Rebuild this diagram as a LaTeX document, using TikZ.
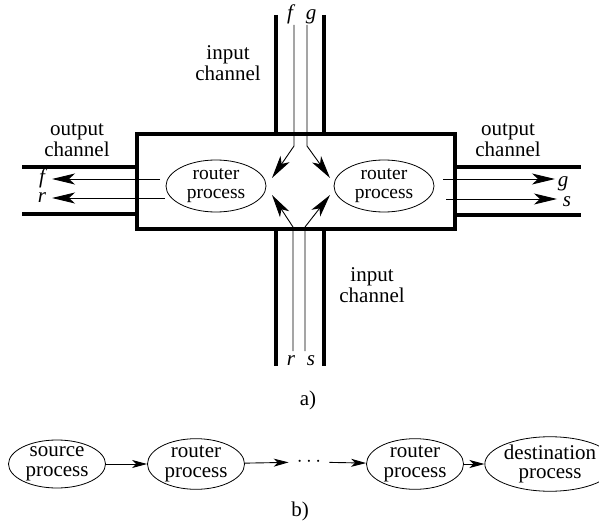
\documentclass[tikz,border=0pt]{standalone}
\usepackage{fontspec}
\setmainfont{Liberation Serif}
\usetikzlibrary{arrows.meta,shapes.geometric}
\begin{document}
\begin{tikzpicture}[x=1pt,y=-1pt,
  wall/.style={line width=4.5pt},
  wire/.style={line width=0.9pt,black},
  bigtip/.style={-{Stealth[length=23pt,width=11pt,inset=6pt]}},
  smalltip/.style={-{Stealth[length=15pt,width=8pt,inset=4pt]}},
  proc/.style={ellipse,draw,line width=0.8pt,inner sep=0pt,align=center},
  inproc/.style={proc,minimum width=100pt,minimum height=52pt,
    font=\fontsize{19.5}{19}\selectfont},
  chainproc/.style={proc,minimum width=97pt,minimum height=48pt,
    font=\fontsize{21}{19.5}\selectfont},
  lbl/.style={align=center,font=\fontsize{21}{21.5}\selectfont},
  var/.style={anchor=base,inner sep=0pt,text height=10pt,text depth=3pt,
    font=\fontsize{21}{21}\selectfont\itshape}]
\useasboundingbox (0,0) rectangle (599,529);

% switch box and its four channels
\draw[wall] (137,134) rectangle (455,229);
\draw[wall] (276,15) -- (276,134) (324,15) -- (324,134);
\draw[wall] (276,229) -- (276,366) (324,229) -- (324,366);
\draw[wall] (22,167) -- (137,167) (22,214) -- (137,214);
\draw[wall] (455,167) -- (581,167) (455,215) -- (581,215);

% router processes inside the switch
\node[inproc] (rl) at (216,186) {router\\process};
\node[inproc] (rr) at (384,186) {router\\process};

% channel labels
\node[lbl] (inA) at (228,63) {input\\channel};
\node[lbl] (inB) at (372,285) {input\\channel};
\node[lbl] (outL) at (77,140) {output\\channel};
\node[lbl] (outR) at (508,140) {output\\channel};

% signal names
\node[var] (f1) at (290,20) {f};
\node[var] (g1) at (311,20) {g};
\node[var] (r1) at (291,365) {r};
\node[var] (s1) at (311,365) {s};
\node[var] (f2) at (42,184) {f};
\node[var] (r2) at (42,203) {r};
\node[var] (g2) at (563,187) {g};
\node[var] (s2) at (567,207) {s};

% wire turning points and ends
\coordinate (fa) at (294,25);  \coordinate (fb) at (294,146); \coordinate (fc) at (272,178);
\coordinate (ga) at (307,25);  \coordinate (gb) at (307,146); \coordinate (gc) at (330,178);
\coordinate (ra) at (293,351); \coordinate (rb) at (293,227); \coordinate (rc) at (272,195);
\coordinate (sa) at (305,351); \coordinate (sb) at (305,227); \coordinate (sc) at (330,195);
\coordinate (fo) at (160,179); \coordinate (fe) at (52,179);
\coordinate (ro) at (165,198); \coordinate (re) at (52,198);
\coordinate (go) at (443,179); \coordinate (ge) at (555,179);
\coordinate (so) at (446,199); \coordinate (se) at (557,199);

% wires
\draw[wire,bigtip] (fa) -- (fb) -- (fc);
\draw[wire,bigtip] (ga) -- (gb) -- (gc);
\draw[wire,bigtip] (ra) -- (rb) -- (rc);
\draw[wire,bigtip] (sa) -- (sb) -- (sc);
\draw[wire,bigtip] (fo) -- (fe);
\draw[wire,bigtip] (ro) -- (re);
\draw[wire,bigtip] (go) -- (ge);
\draw[wire,bigtip] (so) -- (se);

\node[lbl] (capA) at (308,400) {a)};

% chain of processes
\node[chainproc] (src) at (57,464) {source\\process};
\node[chainproc] (r3) at (196,464) {router\\process};
\node[lbl,inner xsep=8pt] (dots) at (309,462) {$\cdots$};
\node[chainproc] (r4) at (415,464) {router\\process};
\node[chainproc] (dst) at (550,464) {destination\\process};
\draw[wire,smalltip] (src) -- (r3);
\draw[wire,smalltip] (r3) -- (dots);
\draw[wire,smalltip] (dots) -- (r4);
\draw[wire,smalltip] (r4) -- (dst);

\node[lbl] (capB) at (300,511) {b)};
\end{tikzpicture}
\end{document}
